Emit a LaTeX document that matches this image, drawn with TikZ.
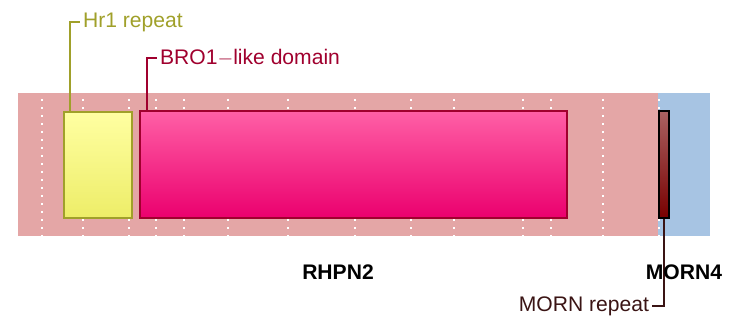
\documentclass[tikz,border=0pt]{standalone}
\usepackage{fontspec}
\setmainfont{Liberation Sans}
\usepackage{xcolor}
\usetikzlibrary{positioning}

\definecolor{protpink}{HTML}{E4A6A6}
\definecolor{protblue}{HTML}{A7C4E3}
\definecolor{hrline}{HTML}{A0A02A}
\definecolor{broline}{HTML}{A0002E}
\definecolor{mornline}{HTML}{3A1414}
\definecolor{hrtop}{HTML}{FFFFA2}
\definecolor{hrbot}{HTML}{EDED68}
\definecolor{brotop}{HTML}{FF60A6}
\definecolor{brobot}{HTML}{EB006E}
\definecolor{morntop}{HTML}{A96262}
\definecolor{mornbot}{HTML}{780000}

\begin{document}
\begin{tikzpicture}[x=0.025cm, y=-0.025cm,
        region/.style={rectangle, anchor=north west, inner sep=0pt, minimum height=3.575cm},
        dombox/.style={rectangle, anchor=north west, inner sep=0pt, line width=1.1pt, shading=axis, shading angle=0},
        gridline/.style={white, line width=1.3pt, dash pattern=on 1.3pt off 4.4pt},
        callout/.style={line width=1.3pt},
        lab/.style={font=\fontsize{15pt}{18pt}\selectfont, inner sep=2pt},
        protname/.style={font=\fontsize{15pt}{18pt}\selectfont\bfseries}
    ]
    \useasboundingbox (0,0) rectangle (730,326);

    % Protein regions
    \node[region, fill=protpink, minimum width=16cm] (rhpn2) at (18,93) {};
    \node[region, fill=protblue, minimum width=1.3cm] (morn4) at (658,93) {};

    % Dotted grid
    \foreach \gx in {42,83,129,156,184,228,288,355,411,454,523,551,603,659}
        \draw[gridline] (\gx,99) -- (\gx,236);

    % Domains
    \node[dombox, draw=hrline, top color=hrtop, bottom color=hrbot,
          minimum width=1.7cm, minimum height=2.65cm] (hr1) at (63,111) {};
    \node[dombox, draw=broline, top color=brotop, bottom color=brobot,
          minimum width=10.675cm, minimum height=2.675cm] (bro1) at (139,110) {};
    \node[dombox, draw=black, top color=morntop, bottom color=mornbot,
          minimum width=0.25cm, minimum height=2.675cm] (morn) at (658,110) {};

    % Domain labels
    \node[lab, anchor=west, text=hrline] (hr1lab) at (80,22) {Hr1 repeat};
    \node[lab, anchor=west, text=broline] (bro1lab) at (157,58) {BRO1$-$like domain};
    \node[lab, anchor=east, text=mornline] (mornlab) at (652,306) {MORN repeat};

    \draw[callout, hrline] ([xshift=0.175cm]hr1.north west) |- (hr1lab.west);
    \draw[callout, broline] ([xshift=0.2cm]bro1.north west) |- (bro1lab.west);
    \draw[callout, mornline] (morn.south) |- (mornlab.east);

    % Protein names
    \node[protname] at (338,272) {RHPN2};
    \node[protname] at (684,272) {MORN4};

\end{tikzpicture}
\end{document}
